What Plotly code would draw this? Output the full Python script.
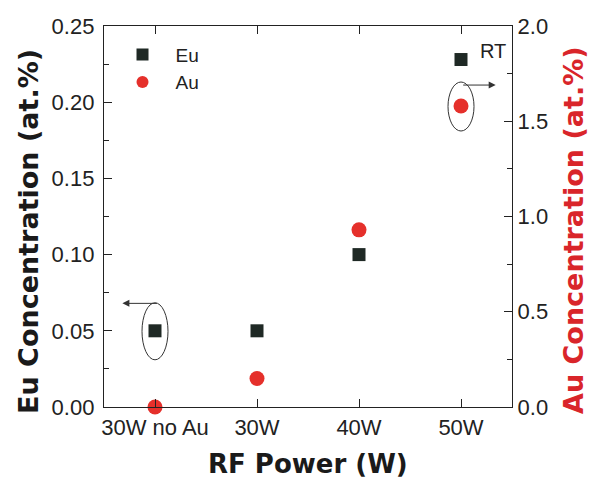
import plotly.graph_objects as go

# RF power settings along the x axis
categories = ["30W no Au", "30W", "40W", "50W"]
# Measured concentrations (at.%)
eu_conc = [0.05, 0.05, 0.10, 0.228]
au_conc = [0.0, 0.15, 0.93, 1.58]

eu_ticks = [0.00, 0.05, 0.10, 0.15, 0.20, 0.25]
au_ticks = [0.0, 0.5, 1.0, 1.5, 2.0]

FONT = "Liberation Sans, Arial, sans-serif"
TITLE_FONT = "DejaVu Sans, Liberation Sans, sans-serif"
EU_COLOR = "#1f2925"
AU_COLOR = "#e5302b"
AXIS_RED = "#d9252a"
INK = "#222222"

xpos = list(range(len(categories)))

fig = go.Figure()
fig.add_trace(go.Scatter(
    x=xpos, y=eu_conc, mode="markers", name="Eu",
    marker=dict(symbol="square", size=13, color=EU_COLOR),
    cliponaxis=False, yaxis="y",
))
fig.add_trace(go.Scatter(
    x=xpos, y=au_conc, mode="markers", name="Au",
    marker=dict(symbol="circle", size=15, color=AU_COLOR),
    cliponaxis=False, yaxis="y2",
))

tickfont = dict(family=FONT, size=22, color=INK)

common_axis = dict(
    ticks="inside", ticklen=8, tickwidth=1.3, tickcolor=INK,
    showline=True, linecolor=INK, linewidth=1.4,
    showgrid=False, zeroline=False, tickfont=tickfont,
    automargin=False,
)

fig.update_layout(
    width=592, height=483,
    margin=dict(l=104, r=80, t=26, b=76, autoexpand=False),
    paper_bgcolor="white", plot_bgcolor="rgba(0,0,0,0)",
    showlegend=True,
    legend=dict(
        x=0.0135, y=0.975, xanchor="left", yanchor="top",
        font=dict(family=FONT, size=19, color=INK),
        bgcolor="rgba(0,0,0,0)", itemsizing="constant",
        tracegroupgap=0, itemwidth=56,
    ),
    xaxis=dict(
        range=[-0.5, 3.5], tickmode="array", tickvals=xpos, ticktext=categories,
        mirror="ticks",
        **common_axis,
    ),
    yaxis=dict(
        range=[0, 0.25], tickmode="array", tickvals=eu_ticks, tickformat=".2f",
        minor=dict(ticks="inside", ticklen=5, dtick=0.025, tickcolor=INK, tickwidth=1.3, showgrid=False),
        ticklabelstandoff=4,
        **common_axis,
    ),
    yaxis2=dict(
        range=[0, 2.0], tickmode="array", tickvals=au_ticks, tickformat=".1f",
        overlaying="y", side="right",
        minor=dict(ticks="inside", ticklen=5, dtick=0.25, tickcolor=INK, tickwidth=1.3, showgrid=False),
        **common_axis,
    ),
)

# Axis titles (positions given in page pixels, converted below)
fig.add_annotation(
    x=308, y=464, xref="paper", yref="paper", text="RF Power (W)",
    showarrow=False, xanchor="center", yanchor="middle",
    font=dict(family=TITLE_FONT, size=26, color="#1a1a1a", weight="bold"),
)
fig.add_annotation(
    x=28, y=232, xref="paper", yref="paper", text="Eu Concentration (at.%)",
    textangle=-90, showarrow=False, xanchor="center", yanchor="middle",
    font=dict(family=TITLE_FONT, size=27, color="#1a1a1a", weight="bold"),
)
fig.add_annotation(
    x=574, y=230, xref="paper", yref="paper", text="Au Concentration (at.%)",
    textangle=-90, showarrow=False, xanchor="center", yanchor="middle",
    font=dict(family=TITLE_FONT, size=27, color=AXIS_RED, weight="bold"),
)

W, H = 592, 483
ml, mr, mt, mb = 104, 80, 26, 76
for ann in fig.layout.annotations:
    if ann.xref == "paper" and ann.yref == "paper":
        ann.x = (ann.x - ml) / (W - ml - mr)
        ann.y = (H - mb - ann.y) / (H - mt - mb)

# Ellipse around the 30W no Au Eu point, with an arrow pointing to the left axis
fig.add_shape(
    type="circle", xref="x", yref="y",
    xsizemode="pixel", ysizemode="pixel",
    xanchor=xpos[0], yanchor=eu_conc[0],
    x0=-13, x1=13, y0=-29, y1=28,
    line=dict(color="#333", width=1),
)
fig.add_annotation(
    x=-0.32, y=0.068, xref="x", yref="y",
    ax=36, ay=0, axref="pixel", ayref="pixel",
    showarrow=True, arrowhead=2, arrowsize=1.4, arrowwidth=1, arrowcolor="#333",
    text="",
)

# Ellipse around the 50W Au point, with an arrow pointing to the right axis
fig.add_shape(
    type="circle", xref="x", yref="y2",
    xsizemode="pixel", ysizemode="pixel",
    xanchor=xpos[3], yanchor=au_conc[3],
    x0=-13, x1=13, y0=-25, y1=24,
    line=dict(color="#333", width=1),
)
fig.add_annotation(
    x=3.34, y=1.69, xref="x", yref="y2",
    ax=-34, ay=0, axref="pixel", ayref="pixel",
    showarrow=True, arrowhead=2, arrowsize=1.4, arrowwidth=1, arrowcolor="#333",
    text="",
)

# Deposition temperature label
fig.add_annotation(
    x=3.31, y=0.2335, xref="x", yref="y",
    text="RT", showarrow=False,
    font=dict(family=FONT, size=20, color=INK),
)

fig.write_html("out.html")
